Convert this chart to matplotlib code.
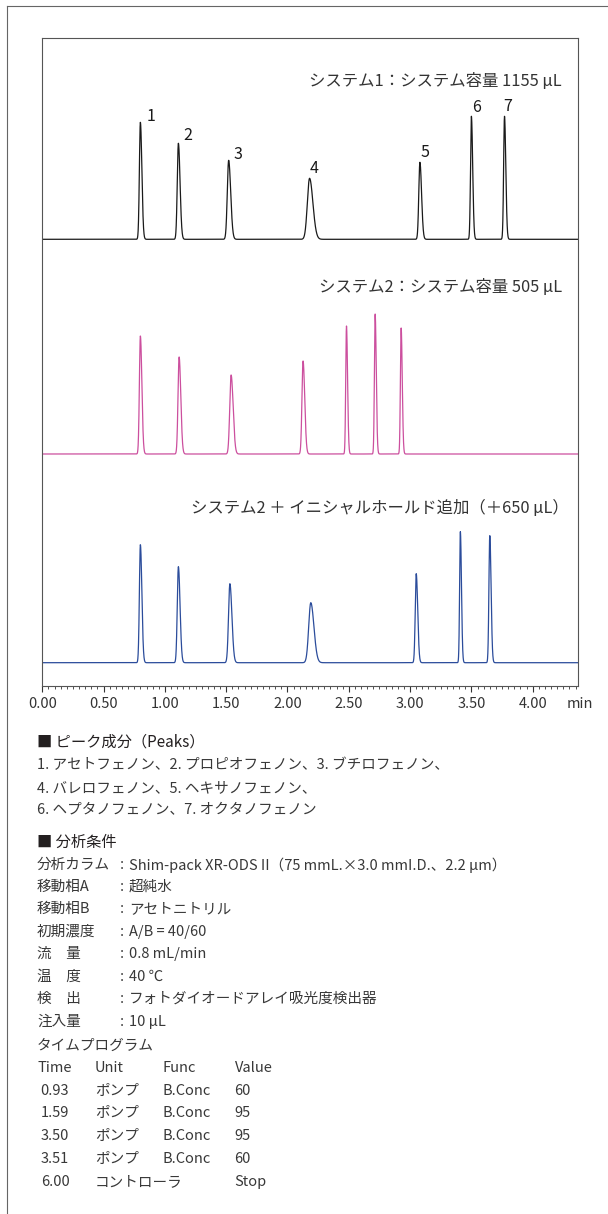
import numpy as np
import matplotlib.pyplot as plt
from matplotlib.lines import Line2D
from matplotlib.ticker import MultipleLocator, FormatStrFormatter

plt.rcParams['font.family'] = ['Noto Sans CJK JP', 'DejaVu Sans']

# 保持時間 (min) とピーク高さ
rt_sys1 = [0.80, 1.11, 1.52, 2.18, 3.08, 3.50, 3.77]
h_sys1 = [117, 96, 79, 61, 77, 123, 123]
w_sys1 = [0.008, 0.009, 0.011, 0.018, 0.009, 0.007, 0.007]

rt_sys2 = [0.80, 1.116, 1.54, 2.127, 2.481, 2.715, 2.927]
h_sys2 = [118, 97, 79, 93, 128, 140, 126]
w_sys2 = [0.008, 0.009, 0.011, 0.009, 0.006, 0.006, 0.006]

rt_sys3 = [0.80, 1.11, 1.53, 2.19, 3.05, 3.41, 3.65]
h_sys3 = [118, 96, 79, 60, 89, 131, 127]
w_sys3 = [0.008, 0.009, 0.011, 0.017, 0.008, 0.006, 0.007]

peak_names = ["1", "2", "3", "4", "5", "6", "7"]
titles = ["システム1：システム容量 1155 µL",
          "システム2：システム容量 505 µL",
          "システム2 ＋ イニシャルホールド追加（＋650 µL）"]
colors = ["#1a1a1a", "#cc4f9e", "#2b4c9b"]

W, H = 608, 1214
fig = plt.figure(figsize=(W / 100, H / 100), dpi=100)


def fx(px):
    return px / W


def fy(py):
    return 1 - py / H


ax = fig.add_axes([fx(42.3), fy(685.7), fx(578.3) - fx(42.3), fy(37.7) - fy(685.7)])

t = np.linspace(0, 4.372, 9000)


def chrom(rts, hs, ws):
    y = np.zeros_like(t)
    for t0, h, s in zip(rts, hs, ws):
        sig = np.where(t < t0, s, s * 1.5)
        y += h * np.exp(-0.5 * ((t - t0) / sig) ** 2)
    return y


offsets = [446.4, 231.7, 23.0]
data = [(rt_sys1, h_sys1, w_sys1), (rt_sys2, h_sys2, w_sys2), (rt_sys3, h_sys3, w_sys3)]
for (rts, hs, ws), off, c in zip(data, offsets, colors):
    ax.plot(t, chrom(rts, hs, ws) + off, color=c, lw=0.9)

# ピーク番号
lab_dx = [11, 9.5, 9.5, 4.5, 5, 5, 3]
lab_dy = [6, 8, 6, 10, 10, 9, 10]
for name, t0, h, dx, dy in zip(peak_names, rt_sys1, h_sys1, lab_dx, lab_dy):
    ax.annotate(name, (t0, h + offsets[0]), xytext=(dx, dy), textcoords='offset pixels',
                ha='center', va='center', fontsize=11.5, color='#1a1a1a')

title_x = [0.9696, 0.9696, 0.982]
title_y = [0.933, 0.615, 0.274]
for s, xx, yy in zip(titles, title_x, title_y):
    ax.text(xx, yy, s, transform=ax.transAxes, ha='right', va='center',
            fontsize=11.8, color='#333333')

ax.set_xlim(0, 4.372)
ax.set_ylim(0, 648)
ax.set_yticks([])
ax.xaxis.set_major_locator(MultipleLocator(0.5))
ax.xaxis.set_minor_locator(MultipleLocator(0.05))
ax.xaxis.set_major_formatter(FormatStrFormatter('%.2f'))
ax.tick_params(axis='x', which='major', length=4, width=0.8, pad=4, labelsize=10.5,
               colors='#333333')
ax.tick_params(axis='x', which='minor', length=2, width=0.6, colors='#333333')
for sp in ax.spines.values():
    sp.set_color('#555555')
    sp.set_linewidth(0.8)
fig.text(fx(580), fy(704), "min", ha='center', va='center', fontsize=10.5, color='#333333')

# 外枠
fig.add_artist(Line2D([fx(7), 1], [fy(6), fy(6)], color='#666666', lw=0.8))
fig.add_artist(Line2D([fx(7), fx(7)], [fy(6), 0], color='#666666', lw=0.8))

txt = '#383838'
body = 10.5
fig.text(fx(37), fy(742), "■ ピーク成分（Peaks）", fontsize=11, color='#231f20', va='center')
peak_lines = ["1. アセトフェノン、2. プロピオフェノン、3. ブチロフェノン、",
              "4. バレロフェノン、5. ヘキサノフェノン、",
              "6. ヘプタノフェノン、7. オクタノフェノン"]
for s, yy in zip(peak_lines, [765, 788, 810]):
    fig.text(fx(37), fy(yy), s, fontsize=body, color=txt, va='center')

fig.text(fx(37), fy(842), "■ 分析条件", fontsize=11, color='#231f20', va='center')
cond_labels = ["分析カラム", "移動相A", "移動相B", "初期濃度", "流　量", "温　度",
               "検　出", "注入量"]
cond_values = ["Shim-pack XR-ODS II（75 mmL.×3.0 mmI.D.、2.2 µm）", "超純水",
               "アセトニトリル", "A/B = 40/60", "0.8 mL/min", "40 ℃",
               "フォトダイオードアレイ吸光度検出器", "10 µL"]
cond_y = [865, 887, 909, 932, 954, 977, 999, 1022]
for lab, val, yy in zip(cond_labels, cond_values, cond_y):
    fig.text(fx(37), fy(yy), lab, fontsize=body, color=txt, va='center')
    fig.text(fx(120), fy(yy), ":", fontsize=body, color=txt, va='center')
    fig.text(fx(129), fy(yy), val, fontsize=body, color=txt, va='center')

fig.text(fx(37), fy(1046), "タイムプログラム", fontsize=body, color=txt, va='center')
tp_header = ["Time", "Unit", "Func", "Value"]
tp_time = ["0.93", "1.59", "3.50", "3.51", "6.00"]
tp_unit = ["ポンプ", "ポンプ", "ポンプ", "ポンプ", "コントローラ"]
tp_func = ["B.Conc", "B.Conc", "B.Conc", "B.Conc", ""]
tp_value = ["60", "95", "95", "60", "Stop"]
col_x = [37, 95, 163, 234.5]
for s, xx in zip(tp_header, col_x):
    fig.text(fx(xx), fy(1068), s, fontsize=body, color=txt, va='center')
rows_y = [1091, 1113, 1136, 1159, 1182]
for i, yy in enumerate(rows_y):
    fig.text(fx(40.7), fy(yy), tp_time[i], fontsize=body, color=txt, va='center')
    fig.text(fx(col_x[1]), fy(yy), tp_unit[i], fontsize=body, color=txt, va='center')
    fig.text(fx(col_x[2]), fy(yy), tp_func[i], fontsize=body, color=txt, va='center')
    fig.text(fx(col_x[3]), fy(yy), tp_value[i], fontsize=body, color=txt, va='center')

fig.savefig("out.png", dpi=100)
